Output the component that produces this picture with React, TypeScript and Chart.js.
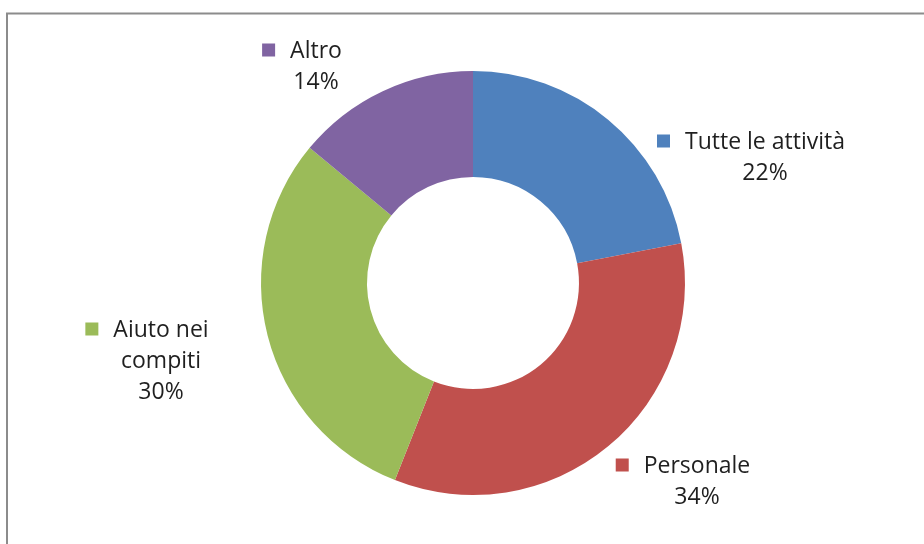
import React, { useEffect, useRef } from "react";
import { Chart, registerables } from "chart.js";

Chart.register(...registerables);

const categories = ["Tutte le attività", "Personale", "Aiuto nei compiti", "Altro"];
const values = [22, 34, 30, 14];
const colors = ["#4F81BD", "#C0504D", "#9BBB59", "#8064A2"];

// label placement relative to the doughnut centre (text centre of first line)
const labelPlacement = [
  { dx: 292, dy: -142, wrap: 400 },
  { dx: 224, dy: 182, wrap: 400 },
  { dx: -312, dy: 46, wrap: 120 },
  { dx: -157, dy: -233, wrap: 400 },
];

const FONT = '23px "Open Sans", sans-serif';

function wrapText(ctx: CanvasRenderingContext2D, text: string, maxW: number): string[] {
  const words = text.split(" ");
  const lines: string[] = [];
  let cur = "";
  for (const w of words) {
    const test = cur ? cur + " " + w : w;
    if (ctx.measureText(test).width > maxW && cur) {
      lines.push(cur);
      cur = w;
    } else cur = test;
  }
  if (cur) lines.push(cur);
  return lines;
}

const labelsPlugin = {
  id: "customLabels",
  beforeDraw(chart: any) {
    const ctx = chart.ctx;
    ctx.save();
    ctx.fillStyle = "#ffffff";
    ctx.fillRect(0, 0, chart.width, chart.height);
    ctx.strokeStyle = "#8c8c8c";
    ctx.lineWidth = 2;
    ctx.strokeRect(7, 13.5, 2000, 2000);
    ctx.restore();
  },
  afterDraw(chart: any) {
    const ctx = chart.ctx;
    const meta = chart.getDatasetMeta(0);
    const data = chart.data.datasets[0].data as number[];
    const total = data.reduce((a, b) => a + b, 0);
    ctx.save();
    ctx.font = FONT;
    ctx.textAlign = "center";
    ctx.textBaseline = "middle";
    meta.data.forEach((arc: any, i: number) => {
      const cx = arc.x + labelPlacement[i].dx;
      const cy = arc.y + labelPlacement[i].dy;
      const lines = wrapText(ctx, String(chart.data.labels[i]), labelPlacement[i].wrap);
      lines.push(Math.round((data[i] / total) * 100) + "%");
      const lh = 31;
      lines.forEach((ln, j) => {
        ctx.fillStyle = "#1f1f1f";
        ctx.fillText(ln, cx, cy + j * lh + 1);
        if (j === 0) {
          const w = ctx.measureText(ln).width;
          ctx.fillStyle = colors[i];
          ctx.fillRect(cx - w / 2 - 15 - 13, cy - 6.5, 13, 13);
        }
      });
    });
    ctx.restore();
  },
};

export default function App() {
  const ref = useRef<HTMLCanvasElement>(null);
  useEffect(() => {
    if (!ref.current) return;
    const chart = new Chart(ref.current, {
      type: "doughnut",
      data: {
        labels: categories,
        datasets: [
          {
            data: values,
            backgroundColor: colors,
            borderWidth: 0,
          },
        ],
      },
      options: {
        responsive: false,
        animation: false,
        cutout: "50%",
        layout: { padding: { left: 261, right: 239, top: 71, bottom: 49 } },
        plugins: {
          legend: { display: false },
          tooltip: { enabled: false },
        },
      },
      plugins: [labelsPlugin],
    });
    return () => chart.destroy();
  }, []);
  return (
    <div style={{ position: "fixed", left: 0, top: 0, width: 924, height: 544, background: "#fff" }}>
      <canvas ref={ref} width={924} height={544} style={{ display: "block" }} />
    </div>
  );
}
